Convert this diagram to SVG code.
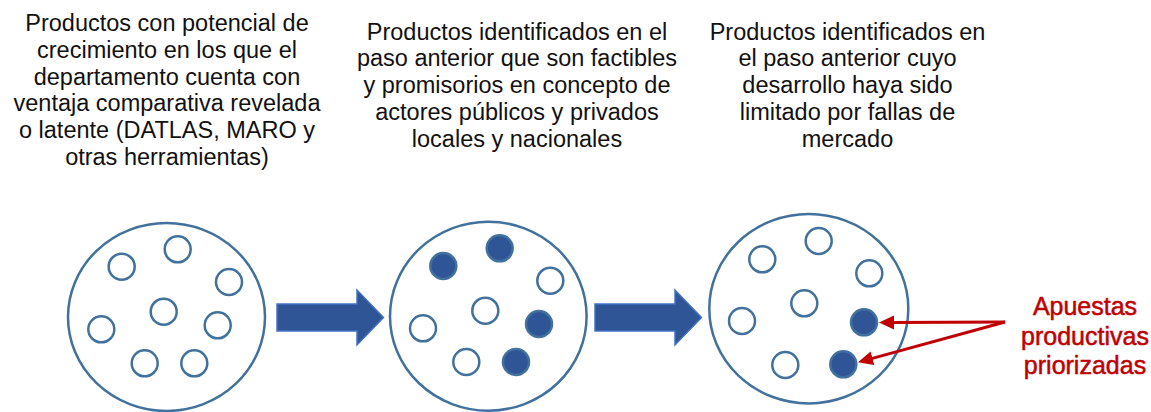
<svg xmlns="http://www.w3.org/2000/svg" width="1151" height="412" viewBox="0 0 1151 412">
  <style>
    .lbl { font-family: "Liberation Sans", Arial, sans-serif; font-size: 23.5px; fill: #111111; text-anchor: middle; }
    .red { font-family: "Liberation Sans", Arial, sans-serif; font-size: 25px; fill: #C00000; stroke: #C00000; stroke-width: 0.5; text-anchor: middle; }
    .big { fill: #FFFFFF; stroke: #41719C; stroke-width: 2.5; }
    .dot { fill: #FFFFFF; stroke: #41719C; stroke-width: 2.5; }
    .on { fill: #2F5597; stroke: #41719C; stroke-width: 2.5; }
    .blue { fill: #2F5597; stroke: #4472C4; stroke-width: 1.5; }
    .redline { stroke: #C00000; stroke-width: 3; fill: none; }
  </style>
  <defs>
    <marker id="rh" markerUnits="userSpaceOnUse" markerWidth="16" markerHeight="16" viewBox="0 0 16 16" refX="4" refY="8" orient="auto">
      <path d="M0,1 L15,8 L0,15 z" fill="#C00000"/>
    </marker>
  </defs>
  <rect width="1151" height="412" fill="#FFFFFF"/>

  <g id="label1">
    <text class="lbl" x="167" y="31">Productos con potencial de</text>
    <text class="lbl" x="167" y="57.8">crecimiento en los que el</text>
    <text class="lbl" x="167" y="84.6">departamento cuenta con</text>
    <text class="lbl" x="167" y="111.4">ventaja comparativa revelada</text>
    <text class="lbl" x="167" y="138.2">o latente (DATLAS, MARO y</text>
    <text class="lbl" x="167" y="165">otras herramientas)</text>
  </g>
  <g id="label2">
    <text class="lbl" x="517" y="39.5">Productos identificados en el</text>
    <text class="lbl" x="517" y="66.3">paso anterior que son factibles</text>
    <text class="lbl" x="517" y="93.1">y promisorios en concepto de</text>
    <text class="lbl" x="517" y="119.9">actores públicos y privados</text>
    <text class="lbl" x="517" y="146.7">locales y nacionales</text>
  </g>
  <g id="label3">
    <text class="lbl" x="847.5" y="39.5">Productos identificados en</text>
    <text class="lbl" x="847.5" y="66.3">el paso anterior cuyo</text>
    <text class="lbl" x="847.5" y="93.1">desarrollo haya sido</text>
    <text class="lbl" x="847.5" y="119.9">limitado por fallas de</text>
    <text class="lbl" x="847.5" y="146.7">mercado</text>
  </g>

  <g id="set1">
    <ellipse class="big" cx="166.5" cy="317" rx="98.5" ry="94"/>
    <circle class="dot" cx="121.7" cy="266.7" r="13"/>
    <circle class="dot" cx="177.7" cy="249.3" r="13"/>
    <circle class="dot" cx="229" cy="282" r="13"/>
    <circle class="dot" cx="163.7" cy="311.7" r="13"/>
    <circle class="dot" cx="101.3" cy="329.3" r="13"/>
    <circle class="dot" cx="217.7" cy="325.3" r="13"/>
    <circle class="dot" cx="144.7" cy="363.3" r="13"/>
    <circle class="dot" cx="194.3" cy="363.3" r="13"/>
  </g>
  <g id="set2">
    <ellipse class="big" cx="488.3" cy="316.2" rx="98.3" ry="94.5"/>
    <circle class="on" cx="443.3" cy="266" r="13"/>
    <circle class="on" cx="499.7" cy="248.3" r="13"/>
    <circle class="dot" cx="550.3" cy="280.7" r="13"/>
    <circle class="dot" cx="485.3" cy="310.7" r="13"/>
    <circle class="dot" cx="423" cy="328.3" r="13"/>
    <circle class="on" cx="539" cy="324" r="13"/>
    <circle class="dot" cx="466.3" cy="362" r="13"/>
    <circle class="on" cx="516" cy="362" r="13"/>
  </g>
  <g id="set3">
    <ellipse class="big" cx="808.8" cy="308.7" rx="99.5" ry="94.7"/>
    <circle class="dot" cx="762.3" cy="259.3" r="13"/>
    <circle class="dot" cx="818.7" cy="241" r="13"/>
    <circle class="dot" cx="869.3" cy="273.3" r="13"/>
    <circle class="dot" cx="804.3" cy="303.3" r="13"/>
    <circle class="dot" cx="742" cy="321" r="13"/>
    <circle class="on" cx="864" cy="322.3" r="13"/>
    <circle class="dot" cx="785.3" cy="365" r="13"/>
    <circle class="on" cx="843.3" cy="364.3" r="13"/>
  </g>
  <g id="label4">
    <text class="red" x="1085" y="315">Apuestas</text>
    <text class="red" x="1085" y="344.5">productivas</text>
    <text class="red" x="1085" y="374">priorizadas</text>
  </g>

  <g id="connectors">
    <polygon class="blue" points="277,304 357,304 357,290 383.5,317.5 357,345 357,331 277,331"/>
    <polygon class="blue" points="595,304 675,304 675,290 701.5,317.5 675,345 675,331 595,331"/>
    <line class="redline" x1="1005" y1="322" x2="890" y2="322.5" marker-end="url(#rh)"/>
    <line class="redline" x1="1005" y1="322" x2="868.6" y2="359.4" marker-end="url(#rh)"/>
  </g>
</svg>
